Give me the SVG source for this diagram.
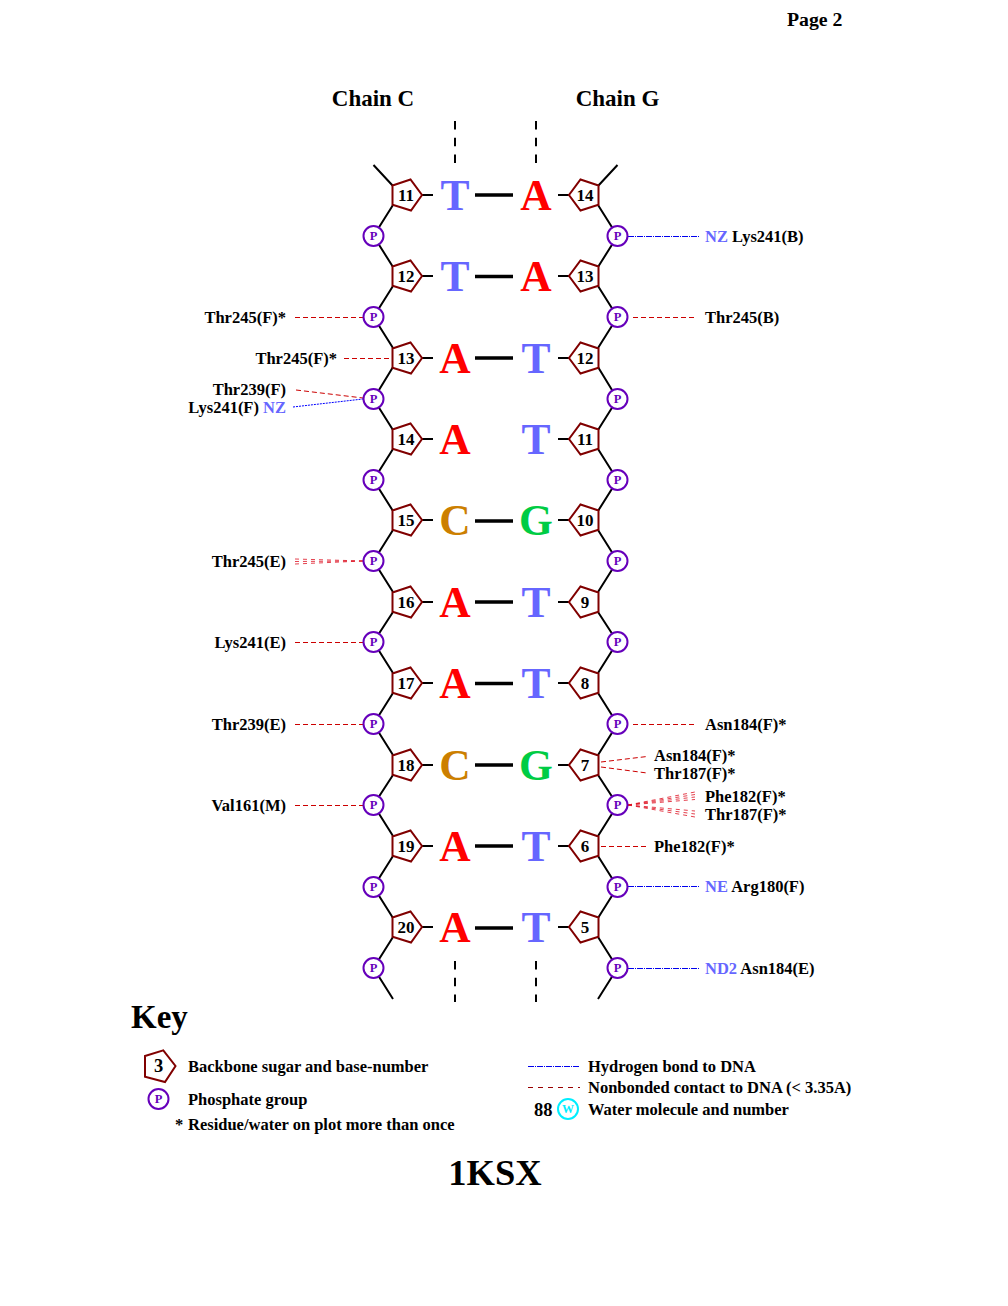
<svg xmlns="http://www.w3.org/2000/svg" width="1008" height="1306" viewBox="0 0 1008 1306">
<style>
text{font-family:"Liberation Serif","Times New Roman",serif;font-weight:bold;fill:#000}
.lab{font-size:16.5px}
.big{font-size:18.500px}
.end{text-anchor:end}
.mid{text-anchor:middle}
.blue{fill:#6666ff}
.sugar{fill:#fff;stroke:#800000;stroke-width:2}
.num{font-size:17px;text-anchor:middle}
.phos{fill:#fff;stroke:#6600bb;stroke-width:2}
.ptxt{font-size:12.5px;text-anchor:middle;fill:#6600bb}
.back{stroke:#000;stroke-width:2;fill:none}
.stub{stroke:#000;stroke-width:2}
.bar{stroke:#000;stroke-width:3.6}
.strand{stroke:#000;stroke-width:2;stroke-dasharray:8.500 8.300}
.nb{stroke:#cc0000;stroke-width:1;stroke-dasharray:5 3;fill:none}
.fan{stroke:#dd1122;stroke-width:.8;stroke-dasharray:4 4;fill:none}
.hb{stroke:#0000ee;stroke-width:1;stroke-dasharray:6 1 1 1;fill:none}
.dot{stroke:#0000ff;stroke-width:1;stroke-dasharray:2 1;fill:none}
.base{font-size:43.500px;text-anchor:middle}
.T{fill:#6666ff}.A{fill:#ff0000}.C{fill:#cc7f00}.G{fill:#00cc44}
</style>
<defs>
<polygon id="sl" class="sugar" points="-12.500,-9.500 5.500,-15.500 17,0 6,15.500 -12.500,9.700"/>
<polygon id="sr" class="sugar" points="12.500,-9.500 -5.500,-15.500 -17,0 -5.500,15.500 12.500,9.700"/>
<g id="ph"><circle class="phos" r="10"/><text class="ptxt" y="4.300">P</text></g>
</defs>
<rect width="1008" height="1306" fill="#fff"/>

<g id="titles">
<text x="787" y="26" font-size="19.800">Page 2</text>
<text x="373" y="105.500" font-size="23" class="mid">Chain C</text>
<text x="617.500" y="105.500" font-size="23" class="mid">Chain G</text>
<text x="131" y="1028" font-size="33">Key</text>
<text x="495" y="1185" font-size="36.500" class="mid">1KSX</text>
</g>

<g id="connectors">
<path class="strand" d="M455 121V163M536 121V163M455 961V1002M536 961V1002"/>
<path class="back" d="M373.500 165L393 186M393 205L373.500 236L393 267M393 286L373.500 317L393 348M393 367L373.500 399L393 430M393 449L373.500 480L393 511M393 530L373.500 561L393 592M393 612L373.500 642L393 673M393 693L373.500 724L393 755M393 775L373.500 805L393 836M393 856L373.500 887L393 918M393 937L373.500 968L393 999"/>
<path class="back" d="M617.500 165L598 186M598 205L617.500 236L598 267M598 286L617.500 317L598 348M598 367L617.500 399L598 430M598 449L617.500 480L598 511M598 530L617.500 561L598 592M598 612L617.500 642L598 673M598 693L617.500 724L598 755M598 775L617.500 805L598 836M598 856L617.500 887L598 918M598 937L617.500 968L598 999"/>
<path class="stub" d="M422 195H433M422 276H433M422 358H433M422 439H433M422 520H433M422 602H433M422 683H433M422 765H433M422 846H433M422 927H433"/>
<path class="stub" d="M558 195H569M558 276H569M558 358H569M558 439H569M558 520H569M558 602H569M558 683H569M558 765H569M558 846H569M558 927H569"/>
<path class="bar" d="M475 195H513M475 276.500H513M475 358H513M475 521H513M475 602H513M475 683.500H513M475 765H513M475 846H513M475 928H513"/>
<path class="nb" d="M295 317.500H363M344 358.500H391M296 390L363 398M295 642.500H363M295 724.500H363M295 805.500H363"/>
<path class="fan" d="M295 559L363 561M295 561.500L363 561M295 564L363 561"/>
<path class="nb" d="M633 317.500H697M633 724.500H697M601 846.500H648M601 762L647 756.500M601 767L647 773"/>
<path class="fan" d="M628 805L695 792M628 805L695 794.500M628 805L695 797M628 805L695 799.500M628 805L695 811M628 805L695 814M628 805L695 817"/>
<path class="hb" d="M628 236.500H699M628 886.500H699M628 968.500H699"/>
<path class="dot" d="M293 407L363 399"/>
</g>

<g id="bases">
<text class="base T" x="455" y="210">T</text><text class="base A" x="536" y="210">A</text>
<text class="base T" x="455" y="291">T</text><text class="base A" x="536" y="291">A</text>
<text class="base A" x="455" y="373">A</text><text class="base T" x="536" y="373">T</text>
<text class="base A" x="455" y="454">A</text><text class="base T" x="536" y="454">T</text>
<text class="base C" x="455" y="535">C</text><text class="base G" x="536" y="535">G</text>
<text class="base A" x="455" y="617">A</text><text class="base T" x="536" y="617">T</text>
<text class="base A" x="455" y="698">A</text><text class="base T" x="536" y="698">T</text>
<text class="base C" x="455" y="780">C</text><text class="base G" x="536" y="780">G</text>
<text class="base A" x="455" y="861">A</text><text class="base T" x="536" y="861">T</text>
<text class="base A" x="455" y="942">A</text><text class="base T" x="536" y="942">T</text>
</g>

<g id="sugar-c11"><use href="#sl" x="405" y="195"/><text class="num" x="406" y="200.500">11</text></g>
<g id="sugar-c12"><use href="#sl" x="405" y="276"/><text class="num" x="406" y="281.500">12</text></g>
<g id="sugar-c13"><use href="#sl" x="405" y="358"/><text class="num" x="406" y="363.500">13</text></g>
<g id="sugar-c14"><use href="#sl" x="405" y="439"/><text class="num" x="406" y="444.500">14</text></g>
<g id="sugar-c15"><use href="#sl" x="405" y="520"/><text class="num" x="406" y="525.500">15</text></g>
<g id="sugar-c16"><use href="#sl" x="405" y="602"/><text class="num" x="406" y="607.500">16</text></g>
<g id="sugar-c17"><use href="#sl" x="405" y="683"/><text class="num" x="406" y="688.500">17</text></g>
<g id="sugar-c18"><use href="#sl" x="405" y="765"/><text class="num" x="406" y="770.500">18</text></g>
<g id="sugar-c19"><use href="#sl" x="405" y="846"/><text class="num" x="406" y="851.500">19</text></g>
<g id="sugar-c20"><use href="#sl" x="405" y="927"/><text class="num" x="406" y="932.500">20</text></g>

<g id="sugar-g14"><use href="#sr" x="586" y="195"/><text class="num" x="585" y="200.500">14</text></g>
<g id="sugar-g13"><use href="#sr" x="586" y="276"/><text class="num" x="585" y="281.500">13</text></g>
<g id="sugar-g12"><use href="#sr" x="586" y="358"/><text class="num" x="585" y="363.500">12</text></g>
<g id="sugar-g11"><use href="#sr" x="586" y="439"/><text class="num" x="585" y="444.500">11</text></g>
<g id="sugar-g10"><use href="#sr" x="586" y="520"/><text class="num" x="585" y="525.500">10</text></g>
<g id="sugar-g9"><use href="#sr" x="586" y="602"/><text class="num" x="585" y="607.500">9</text></g>
<g id="sugar-g8"><use href="#sr" x="586" y="683"/><text class="num" x="585" y="688.500">8</text></g>
<g id="sugar-g7"><use href="#sr" x="586" y="765"/><text class="num" x="585" y="770.500">7</text></g>
<g id="sugar-g6"><use href="#sr" x="586" y="846"/><text class="num" x="585" y="851.500">6</text></g>
<g id="sugar-g5"><use href="#sr" x="586" y="927"/><text class="num" x="585" y="932.500">5</text></g>

<g id="phosphates-c">
<use href="#ph" x="373.500" y="236"/><use href="#ph" x="373.500" y="317"/><use href="#ph" x="373.500" y="399"/><use href="#ph" x="373.500" y="480"/><use href="#ph" x="373.500" y="561"/><use href="#ph" x="373.500" y="642"/><use href="#ph" x="373.500" y="724"/><use href="#ph" x="373.500" y="805"/><use href="#ph" x="373.500" y="887"/><use href="#ph" x="373.500" y="968"/>
</g>
<g id="phosphates-g">
<use href="#ph" x="617.500" y="236"/><use href="#ph" x="617.500" y="317"/><use href="#ph" x="617.500" y="399"/><use href="#ph" x="617.500" y="480"/><use href="#ph" x="617.500" y="561"/><use href="#ph" x="617.500" y="642"/><use href="#ph" x="617.500" y="724"/><use href="#ph" x="617.500" y="805"/><use href="#ph" x="617.500" y="887"/><use href="#ph" x="617.500" y="968"/>
</g>

<g id="residues-left">
<text class="lab end" x="286" y="322.500">Thr245(F)*</text>
<text class="lab end" x="337" y="363.500">Thr245(F)*</text>
<text class="lab end" x="286" y="394.500">Thr239(F)</text>
<text class="lab end" x="286" y="412.500">Lys241(F) <tspan class="blue">NZ</tspan></text>
<text class="lab end" x="286" y="566.500">Thr245(E)</text>
<text class="lab end" x="286" y="647.500">Lys241(E)</text>
<text class="lab end" x="286" y="729.500">Thr239(E)</text>
<text class="lab end" x="286" y="810.500">Val161(M)</text>
</g>
<g id="residues-right">
<text class="lab" x="705" y="241.500"><tspan class="blue">NZ</tspan> Lys241(B)</text>
<text class="lab" x="705" y="322.500">Thr245(B)</text>
<text class="lab" x="705" y="729.500">Asn184(F)*</text>
<text class="lab" x="654" y="760.500">Asn184(F)*</text>
<text class="lab" x="654" y="778.500">Thr187(F)*</text>
<text class="lab" x="705" y="801.500">Phe182(F)*</text>
<text class="lab" x="705" y="819.500">Thr187(F)*</text>
<text class="lab" x="654" y="851.500">Phe182(F)*</text>
<text class="lab" x="705" y="891.500"><tspan class="blue">NE</tspan> Arg180(F)</text>
<text class="lab" x="705" y="973.500"><tspan class="blue">ND2</tspan> Asn184(E)</text>
</g>

<g id="key-left">
<polygon class="sugar" points="145,1056 163.300,1050.300 175.500,1066 165,1082 145,1076.700"/>
<text class="mid big" x="158.500" y="1072">3</text>
<use href="#ph" x="158.500" y="1099"/>
<text class="lab" x="188" y="1071.500">Backbone sugar and base-number</text>
<text class="lab" x="188" y="1104.500">Phosphate group</text>
<text class="lab" x="175" y="1129.500">*</text>
<text class="lab" x="188" y="1129.500">Residue/water on plot more than once</text>
</g>
<g id="key-right">
<path class="hb" d="M528 1066.500H580"/>
<path d="M528 1087.500H580" fill="none" stroke="#990000" stroke-width="1" stroke-dasharray="5 5"/>
<text class="big" x="534" y="1115.500">88</text>
<circle cx="568" cy="1109" r="10" fill="#fff" stroke="#00eeff" stroke-width="2"/>
<text x="568" y="1113" font-size="12" class="mid" style="fill:#00eeff">W</text>
<text class="lab" x="588" y="1071.500">Hydrogen bond to DNA</text>
<text class="lab" x="588" y="1092.500">Nonbonded contact to DNA (&lt; 3.35A)</text>
<text class="lab" x="588" y="1114.500">Water molecule and number</text>
</g>
</svg>
